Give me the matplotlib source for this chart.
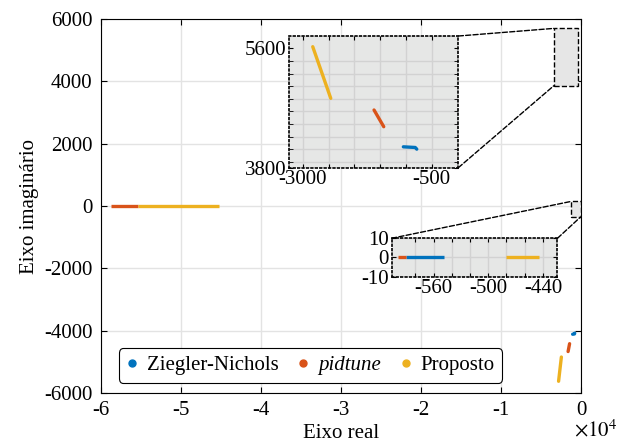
import matplotlib.pyplot as plt
import numpy as np
from matplotlib.lines import Line2D
from matplotlib.patches import Rectangle, ConnectionPatch

plt.rcParams['font.family'] = ['Liberation Serif', 'DejaVu Serif']
plt.rcParams['mathtext.fontset'] = 'stix'
plt.rcParams['font.size'] = 15
plt.rcParams['axes.unicode_minus'] = False

# polos (parte real, parte imaginaria) de cada sintonia
zn_re_c = [-1050, -820, -790]
zn_im_c = [4115, 4105, 4080]
zn_re_r = [-590, -549]

pid_re_c = [-1618, -1430]
pid_im_c = [4670, 4418]
pid_re_r1 = [-599, -590]
pid_re_r2 = [-58750, -55375]

prop_re_c = [-2806, -2457]
prop_im_c = [5624, 4846]
prop_re_r1 = [-480, -444]
prop_re_r2 = [-55375, -45250]

labels = ['Ziegler-Nichols', 'pidtune', 'Proposto']
cores = ['#0072BD', '#D95319', '#EDB120']

fig = plt.figure(figsize=(6.17, 4.43), dpi=100)
ax = fig.add_axes([0.1637, 0.1129, 0.778, 0.8441])


def desenha(a, lw):
    series = [
        (zn_re_c, zn_im_c, [zn_re_r]),
        (pid_re_c, pid_im_c, [pid_re_r1, pid_re_r2]),
        (prop_re_c, prop_im_c, [prop_re_r1, prop_re_r2]),
    ]
    for (re_c, im_c, reais), c in zip(series, cores):
        re_c = np.array(re_c)
        im_c = np.array(im_c)
        a.plot(re_c, im_c, '-', color=c, lw=lw, solid_capstyle='round')
        a.plot(re_c, -im_c, '-', color=c, lw=lw, solid_capstyle='round')
        for r in reais:
            a.plot(r, np.zeros(len(r)), '-', color=c, lw=lw, solid_capstyle='butt')


desenha(ax, 2.4)
ax.set_xlim(-60000, 0)
ax.set_ylim(-6000, 6000)
xt = np.arange(-60000, 1, 10000)
ax.set_xticks(xt)
ax.set_xticklabels(['%d' % (v / 10000) for v in xt])
ax.set_yticks(np.arange(-6000, 6001, 2000))
ax.tick_params(direction='in', top=True, right=True, length=4, pad=6)
ax.grid(True, color='#E3E3E3', lw=1)
ax.set_axisbelow(True)
ax.set_xlabel('Eixo real', labelpad=3)
ax.set_ylabel('Eixo imaginário', labelpad=4)
ax.text(1.03, -0.1, r'$\times10^{4}$', transform=ax.transAxes, ha='center', va='center', fontsize=15)

# retangulos de zoom
ax.add_patch(Rectangle((-3400, 3860), 3050, 1840, facecolor='#E6E6E6', edgecolor='k',
                       ls='--', lw=1, zorder=5))
ax.add_patch(Rectangle((-1200, -350), 1150, 500, facecolor='#E6E6E6', edgecolor='k',
                       ls='--', lw=1, zorder=5))

hs = [Line2D([], [], ls='none', marker='.', markersize=10, color=c) for c in cores]
leg = ax.legend(hs, labels, loc='lower left', bbox_to_anchor=(0.015, 0.0), ncol=3,
                handlelength=0.6, handletextpad=0.4, columnspacing=0.9, fancybox=True,
                edgecolor='k', framealpha=1, borderpad=0.35)
leg.get_frame().set_linewidth(0.8)
leg.get_texts()[1].set_style('italic')

# detalhe superior
ins1 = fig.add_axes([0.4689, 0.6214, 0.2739, 0.2973])
desenha(ins1, 2.4)
ins1.set_xlim(-3260, 15)
ins1.set_ylim(3800, 5785)
ins1.set_xticks(np.arange(-3000, -499, 500))
ins1.set_xticklabels(['-3000', '', '', '', '', '-500'])
ins1.set_yticks([3800, 5600])
ins1.set_yticks(np.linspace(3890, 5600, 10), minor=True)
ins1.grid(True, which='major', axis='x', color='#D2D2D2', lw=1)
ins1.grid(True, which='minor', axis='y', color='#D2D2D2', lw=1)

# detalhe inferior
ins2 = fig.add_axes([0.6348, 0.3754, 0.2687, 0.0867])
desenha(ins2, 2.4)
ins2.set_xlim(-606, -424)
ins2.set_ylim(-10, 10)
ins2.set_xticks(np.arange(-580, -439, 20))
ins2.set_xticklabels(['', '-560', '', '', '-500', '', '', '-440'])
ins2.set_yticks([-10, 0, 10])
ins2.grid(True, color='#D2D2D2', lw=1)

for a in (ins1, ins2):
    a.set_facecolor('#E6E7E6')
    a.set_axisbelow(True)
    a.tick_params(direction='in', top=True, right=True, length=3, pad=2, which='both')
    for s in a.spines.values():
        s.set_linestyle(':')
        s.set_linewidth(1.2)

for xyA, xyB, a in [((1, 1), (-3400, 5700), ins1), ((1, 0), (-3400, 3860), ins1),
                    ((0, 1), (-1200, 150), ins2), ((1, 1), (-50, -350), ins2)]:
    con = ConnectionPatch(xyA=xyA, coordsA=a.transAxes, xyB=xyB, coordsB=ax.transData,
                          ls='--', lw=1, color='k')
    fig.add_artist(con)

fig.savefig('out.png', dpi=100)
plt.close()
